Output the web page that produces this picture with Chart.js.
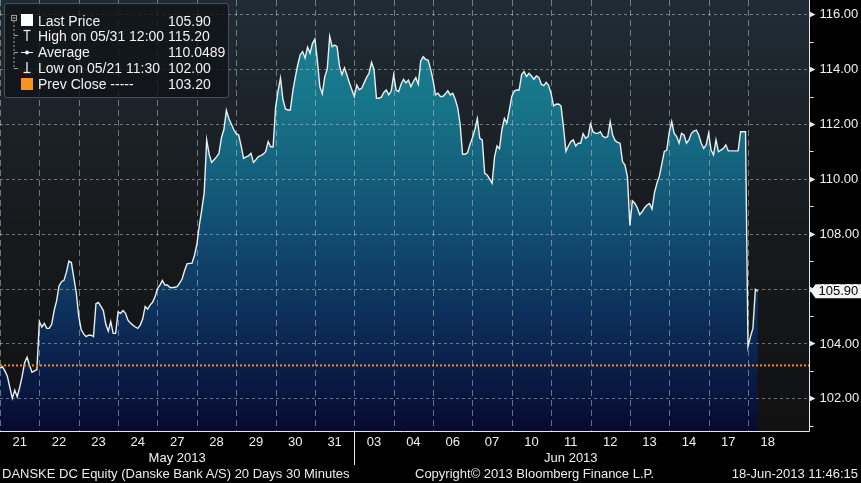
<!DOCTYPE html>
<html>
<head>
<meta charset="utf-8">
<script src="https://cdn.jsdelivr.net/npm/chart.js@4.4.0/dist/chart.umd.min.js"></script>
<style>
  html, body { margin: 0; padding: 0; background: #000; }
  body {
    width: 861px; height: 483px; position: relative; overflow: hidden;
    font-family: 'Liberation Sans', Arial, sans-serif; color: #eee;
  }
  #chart { position: absolute; left: 0; top: 0; }
  .legend {
    position: absolute; left: 4px; top: 3px; width: 225px; height: 95px;
    box-sizing: border-box; border: 1px solid #4a4f55; border-radius: 3px;
    background: rgba(16, 19, 23, 0.82);
  }
  .legend svg { position: absolute; left: 0; top: 0; }
  .legend .row {
    position: absolute; left: 33px; height: 16px; line-height: 16px;
    font-size: 14px; color: #f2f2f2; white-space: nowrap;
  }
  .legend .val {
    position: absolute; left: 163px; height: 16px; line-height: 16px;
    font-size: 14px; color: #f2f2f2; white-space: nowrap;
  }
  .foot {
    position: absolute; top: 465px; height: 17px; line-height: 17px;
    font-size: 13px; color: #ececec; white-space: nowrap;
  }
</style>
</head>
<body>
<canvas id="chart" width="861" height="483"></canvas>

<div class="legend">
  <svg width="223" height="93">
    <!-- tree -->
    <rect x="6.5" y="11.5" width="5" height="5" fill="none" stroke="#9a9a9a" stroke-width="1"/>
    <line x1="7.5" y1="14" x2="10.5" y2="14" stroke="#cfcfcf" stroke-width="1"/>
    <line x1="9" y1="17" x2="9" y2="64.5" stroke="#9a9a9a" stroke-width="1" stroke-dasharray="2,2"/>
    <line x1="9" y1="31.5" x2="13" y2="31.5" stroke="#9a9a9a" stroke-width="1"/>
    <line x1="9" y1="48.5" x2="13" y2="48.5" stroke="#9a9a9a" stroke-width="1"/>
    <line x1="9" y1="64.5" x2="13" y2="64.5" stroke="#9a9a9a" stroke-width="1"/>
    <!-- icons -->
    <rect x="16" y="10" width="12" height="12" fill="#ffffff"/>
    <line x1="18.5" y1="26.5" x2="25.5" y2="26.5" stroke="#eee" stroke-width="1.3"/>
    <line x1="22" y1="26.5" x2="22" y2="37" stroke="#eee" stroke-width="1.3"/>
    <line x1="16" y1="48.5" x2="28" y2="48.5" stroke="#eee" stroke-width="1"/>
    <circle cx="22" cy="48.5" r="2" fill="#eee"/>
    <line x1="22" y1="58" x2="22" y2="68.5" stroke="#eee" stroke-width="1.3"/>
    <line x1="18.5" y1="68.5" x2="25.5" y2="68.5" stroke="#eee" stroke-width="1.3"/>
    <rect x="16" y="74" width="12" height="12" fill="#f7931e"/>
  </svg>
  <div class="row" style="top:9px">Last Price</div>
  <div class="val" style="top:9px">105.90</div>
  <div class="row" style="top:24px">High on 05/31 12:00</div>
  <div class="val" style="top:24px">115.20</div>
  <div class="row" style="top:40px">Average</div>
  <div class="val" style="top:40px">110.0489</div>
  <div class="row" style="top:56px">Low on 05/21 11:30</div>
  <div class="val" style="top:56px">102.00</div>
  <div class="row" style="top:72px">Prev Close -----</div>
  <div class="val" style="top:72px">103.20</div>
</div>

<div class="foot" style="left:2px">DANSKE DC Equity (Danske Bank A/S) 20 Days 30 Minutes</div>
<div class="foot" style="left:415px">Copyright© 2013 Bloomberg Finance L.P.</div>
<div class="foot" style="right:3px">18-Jun-2013 11:46:15</div>

<script>
'use strict';

// ─── Data ─────────────────────────────────────────────────────────────────────

// trading days on the x axis, 16 half-hour bars each
const dayLabels = ['21', '22', '23', '24', '27', '28', '29', '30', '31',
  '03', '04', '06', '07', '10', '11', '12', '13', '14', '17', '18'];
const monthLabels = ['May 2013', 'Jun 2013'];
const monthFirstDay = [0, 9];
const BARS_PER_DAY = 16;

const yTickValues = [102, 104, 106, 108, 110, 112, 114, 116];
const prevClose = 103.20;
const lastPrice = 105.90;

// 30 minute closes, one row per trading day
const prices = [
  103.1, 103.15, 103.0, 102.8, 102.4, 102.0, 102.3, 102.05, 102.4, 102.8, 103.3, 103.5, 103.2, 102.95, 103.0, 103.05,
  104.8, 104.6, 104.73, 104.55, 104.55, 104.7, 105.2, 105.55, 106.1, 106.25, 106.3, 106.6, 107.0, 106.95, 106.4, 105.85,
  105.0, 104.5, 104.35, 104.25, 104.3, 104.3, 104.25, 105.45, 105.5, 105.35, 105.2, 104.7, 104.45, 104.8, 104.37, 104.37,
  105.15, 105.1, 105.2, 105.1, 104.85, 104.75, 104.67, 104.6, 104.55, 104.67, 104.9, 105.35, 105.25, 105.4, 105.5, 105.7,
  106.0, 106.13, 106.3, 106.13, 106.13, 106.05, 106.03, 106.05, 106.07, 106.2, 106.35, 106.65, 106.9, 106.92, 106.92, 107.2,
  107.6, 108.3, 108.87, 109.5, 111.42, 110.9, 110.6, 110.7, 110.8, 110.93, 111.5, 111.8, 112.5, 112.2, 112.0, 111.8,
  111.65, 111.6, 111.2, 110.75, 110.8, 110.84, 110.93, 110.6, 110.7, 110.81, 110.85, 110.9, 111.0, 111.36, 111.17, 111.17,
  112.6, 113.2, 113.67, 112.9, 112.55, 112.51, 112.51, 113.2, 113.7, 114.15, 114.52, 114.64, 114.4, 114.8, 114.58, 114.94,
  115.1, 114.3, 113.36, 113.1, 113.73, 114.0, 115.2, 114.82, 114.88, 114.82, 114.1, 113.8, 114.05, 113.79, 113.5, 113.25,
  113.0, 113.42, 113.25, 113.3, 113.5, 113.7, 113.85, 114.25, 114.0, 112.94, 112.94, 112.98, 113.15, 113.24, 113.06, 113.2,
  113.79, 113.24, 113.18, 113.45, 113.63, 113.5, 113.6, 113.36, 113.55, 113.69, 113.45, 114.3, 114.45, 114.35, 114.33, 114.0,
  113.6, 113.06, 113.12, 113.0, 113.0, 113.1, 113.21, 113.06, 113.12, 112.9, 112.6, 112.0, 110.9, 110.9, 110.95, 111.25,
  111.5, 111.8, 112.2, 111.48, 111.42, 110.2, 110.14, 110.0, 109.84, 110.8, 111.2, 111.1, 111.8, 112.2, 112.03, 112.5,
  113.0, 113.2, 113.24, 113.24, 113.8, 113.91, 113.73, 113.85, 113.75, 113.63, 113.75, 113.7, 113.45, 113.4, 113.52, 113.4,
  113.1, 112.66, 112.72, 112.73, 112.66, 111.9, 111.0, 111.2, 111.36, 111.42, 111.2, 111.3, 111.3, 111.65, 111.48, 111.54,
  112.0, 111.72, 111.66, 111.66, 111.72, 111.55, 111.5, 111.54, 112.09, 111.6, 111.4, 111.33, 111.3, 110.63, 110.5, 110.08,
  108.3, 109.2, 109.11, 108.95, 108.7, 108.8, 108.95, 109.05, 109.1, 108.9, 109.5, 109.84, 110.1, 110.55, 111.0, 111.05,
  111.7, 112.09, 111.66, 111.54, 111.3, 111.66, 111.6, 111.3, 111.42, 111.66, 111.74, 111.78, 111.6, 111.3, 111.11, 111.24,
  111.66, 111.05, 110.87, 111.42, 110.99, 111.05, 111.11, 111.24, 111.02, 111.02, 111.02, 111.02, 111.02, 111.72, 111.72, 111.72,
  103.88, 104.25, 104.55, 105.97, 105.90,
];

// ─── Scale range ──────────────────────────────────────────────────────────────

const X_MAX = 328.8;
const Y_MIN = 100.81;
const Y_MAX = 116.52;

const points = prices.map((p, i) => ({ x: i, y: p }));

const FONT = '13px "Liberation Sans", Arial, sans-serif';
const TEXT = '#f0f0f0';

// ─── Plugins ──────────────────────────────────────────────────────────────────

const bloombergFrame = {
  id: 'bloombergFrame',

  beforeDraw(chart) {
    const { ctx, chartArea: a } = chart;
    ctx.save();
    ctx.fillStyle = '#000';
    ctx.fillRect(0, 0, chart.width, chart.height);
    const g = ctx.createLinearGradient(0, a.top, 0, a.bottom);
    g.addColorStop(0, '#202c35');
    g.addColorStop(0.55, '#17191c');
    g.addColorStop(1, '#111112');
    ctx.fillStyle = g;
    ctx.fillRect(a.left, a.top, a.right - a.left, a.bottom - a.top);
    ctx.restore();
  },

  // grid goes over the area fill but under the price line
  afterDatasetDraw(chart, args) {
    if (args.index !== 0) return;
    const { ctx, chartArea: a, scales: { x, y } } = chart;
    ctx.save();
    ctx.lineWidth = 1;

    ctx.strokeStyle = 'rgba(185,195,200,0.55)';
    ctx.setLineDash([3, 3]);
    yTickValues.forEach((v) => {
      const py = Math.round(y.getPixelForValue(v)) + 0.5;
      ctx.beginPath();
      ctx.moveTo(a.left, py);
      ctx.lineTo(a.right, py);
      ctx.stroke();
    });

    ctx.strokeStyle = 'rgba(195,205,210,0.5)';
    ctx.setLineDash([6, 4]);
    for (let d = 0; d < dayLabels.length; d++) {
      const px = Math.round(x.getPixelForValue(d * BARS_PER_DAY)) + 0.5;
      ctx.beginPath();
      ctx.moveTo(px, a.top);
      ctx.lineTo(px, a.bottom);
      ctx.stroke();
    }
    ctx.restore();
  },

  afterDraw(chart) {
    const { ctx, chartArea: a, scales: { x, y } } = chart;
    ctx.save();
    ctx.strokeStyle = '#e6e6e6';
    ctx.fillStyle = '#e6e6e6';
    ctx.lineWidth = 1;

    // axis lines
    const ax = Math.round(a.right) + 0.5;
    const ay = Math.round(a.bottom) + 0.5;
    ctx.beginPath();
    ctx.moveTo(a.left, ay);
    ctx.lineTo(ax, ay);
    ctx.moveTo(ax, a.top);
    ctx.lineTo(ax, ay);
    ctx.stroke();

    // right axis: minor ticks on odd values, arrow markers on labelled ones
    for (let v = Math.ceil(Y_MIN); v <= Math.floor(Y_MAX); v++) {
      const py = Math.round(y.getPixelForValue(v)) + 0.5;
      if (yTickValues.includes(v)) {
        ctx.beginPath();
        ctx.moveTo(ax, py - 3);
        ctx.lineTo(ax + 6, py);
        ctx.lineTo(ax, py + 3);
        ctx.closePath();
        ctx.fill();
      } else {
        ctx.beginPath();
        ctx.moveTo(ax, py);
        ctx.lineTo(ax + 4, py);
        ctx.stroke();
      }
    }

    ctx.font = FONT;
    ctx.fillStyle = TEXT;
    ctx.textBaseline = 'middle';
    ctx.textAlign = 'left';
    yTickValues.forEach((v) => {
      ctx.fillText(v.toFixed(2), ax + 10, y.getPixelForValue(v) + 0.5);
    });

    // last price tag
    const ly = y.getPixelForValue(lastPrice);
    ctx.fillStyle = '#f4f4f4';
    ctx.beginPath();
    ctx.moveTo(ax + 1, ly);
    ctx.lineTo(ax + 6, ly - 7);
    ctx.lineTo(chart.width, ly - 7);
    ctx.lineTo(chart.width, ly + 7);
    ctx.lineTo(ax + 6, ly + 7);
    ctx.closePath();
    ctx.fill();
    ctx.fillStyle = '#000';
    ctx.fillText(lastPrice.toFixed(2), ax + 9, ly + 0.5);

    // day labels
    ctx.fillStyle = TEXT;
    ctx.textAlign = 'center';
    dayLabels.forEach((lbl, d) => {
      const px = x.getPixelForValue(d * BARS_PER_DAY + BARS_PER_DAY / 2);
      ctx.fillText(lbl, px, a.bottom + 11);
    });

    // month labels and separator
    monthLabels.forEach((lbl, m) => {
      const first = monthFirstDay[m];
      const last = m + 1 < monthFirstDay.length ? monthFirstDay[m + 1] : dayLabels.length;
      const px = (x.getPixelForValue(first * BARS_PER_DAY) + x.getPixelForValue(last * BARS_PER_DAY)) / 2;
      ctx.fillText(lbl, px, a.bottom + 27);
      if (m > 0) {
        const sx = Math.round(x.getPixelForValue(first * BARS_PER_DAY)) + 0.5;
        ctx.beginPath();
        ctx.moveTo(sx, a.bottom);
        ctx.lineTo(sx, a.bottom + 34);
        ctx.stroke();
      }
    });
    ctx.restore();
  },
};

// ─── Chart ────────────────────────────────────────────────────────────────────

function areaGradient(context) {
  const { chart } = context;
  const a = chart.chartArea;
  if (!a) return 'rgba(20,90,120,1)';
  const g = chart.ctx.createLinearGradient(0, a.top, 0, a.bottom);
  g.addColorStop(0, '#1c8497');
  g.addColorStop(0.25, '#177488');
  g.addColorStop(0.5, '#125274');
  g.addColorStop(0.75, '#0c2d58');
  g.addColorStop(1, '#070a30');
  return g;
}

new Chart(document.getElementById('chart'), {
  type: 'line',
  data: {
    datasets: [
      {
        data: points,
        borderWidth: 0,
        pointRadius: 0,
        backgroundColor: areaGradient,
        fill: 'start',
        order: 3,
      },
      {
        data: points,
        borderColor: '#e8f0f2',
        borderWidth: 1.4,
        pointRadius: 0,
        fill: false,
        order: 2,
      },
      {
        data: [{ x: 0, y: prevClose }, { x: X_MAX, y: prevClose }],
        borderColor: '#f08c38',
        borderWidth: 2,
        borderDash: [2, 2],
        pointRadius: 0,
        fill: false,
        order: 1,
      },
    ],
  },
  options: {
    responsive: false,
    animation: false,
    events: [],
    layout: { padding: { left: 0, top: 0, right: 52, bottom: 52 } },
    plugins: { legend: { display: false }, tooltip: { enabled: false } },
    scales: {
      x: { type: 'linear', min: 0, max: X_MAX, display: false },
      y: { type: 'linear', min: Y_MIN, max: Y_MAX, display: false },
    },
  },
  plugins: [bloombergFrame],
});
</script>
</body>
</html>
